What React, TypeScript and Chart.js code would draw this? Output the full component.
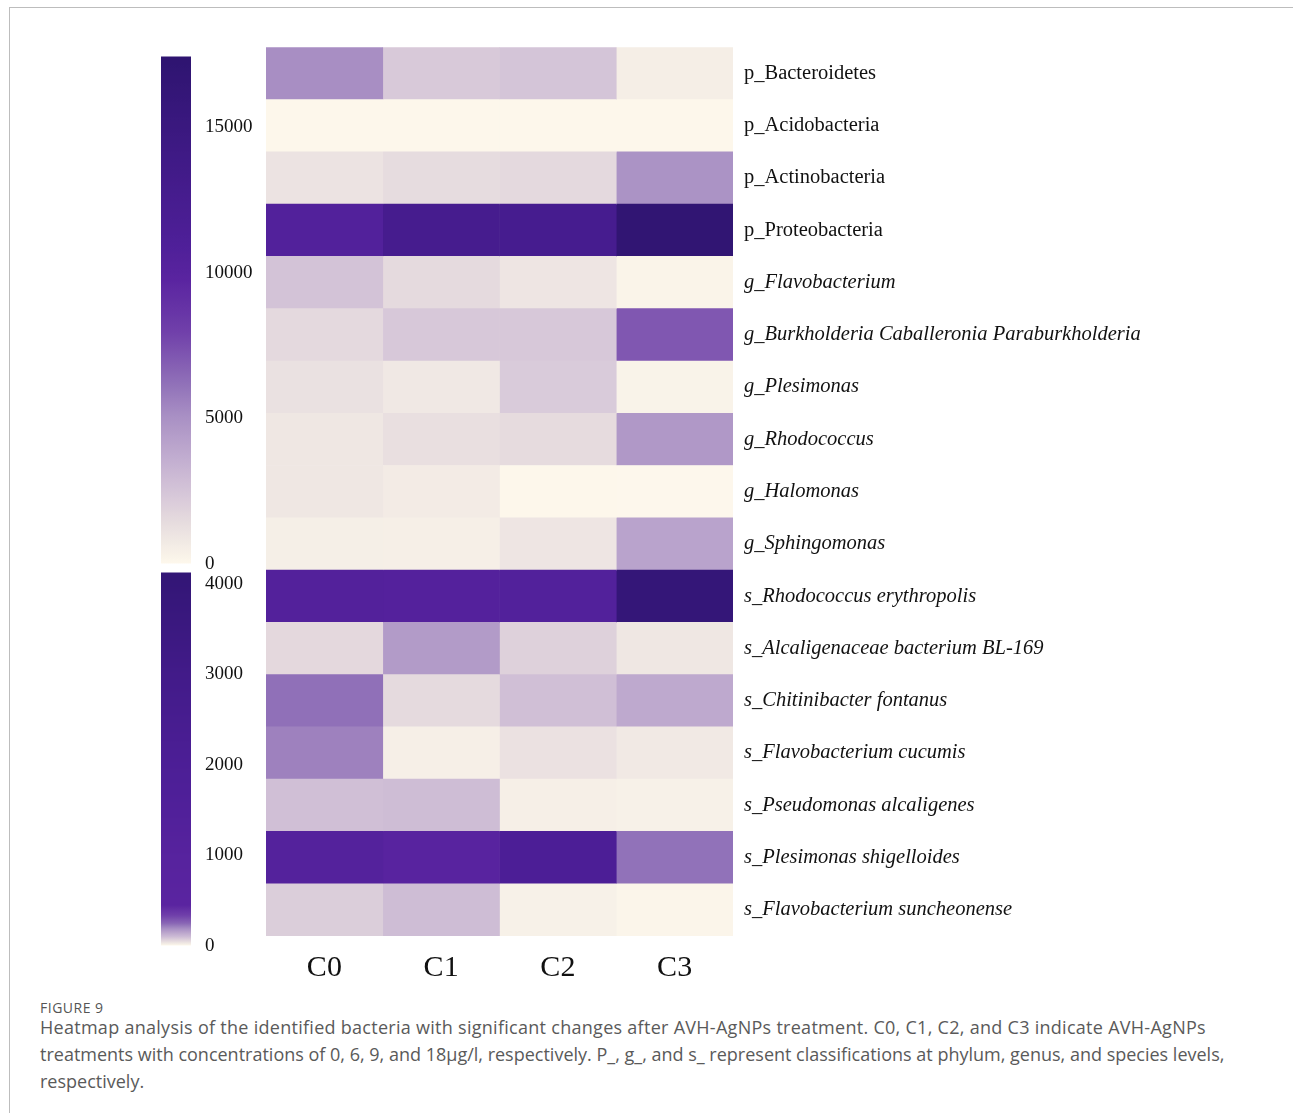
import React, { useEffect, useRef } from 'react';
import { Chart, registerables } from 'chart.js';

Chart.register(...registerables);

// ---------- data ----------
const columns = ['C0', 'C1', 'C2', 'C3'];

const upperRows = [
  'p_Bacteroidetes',
  'p_Acidobacteria',
  'p_Actinobacteria',
  'p_Proteobacteria',
  'g_Flavobacterium',
  'g_Burkholderia Caballeronia Paraburkholderia',
  'g_Plesimonas',
  'g_Rhodococcus',
  'g_Halomonas',
  'g_Sphingomonas',
];

const lowerRows = [
  's_Rhodococcus erythropolis',
  's_Alcaligenaceae bacterium BL-169',
  's_Chitinibacter fontanus',
  's_Flavobacterium cucumis',
  's_Pseudomonas alcaligenes',
  's_Plesimonas shigelloides',
  's_Flavobacterium suncheonense',
];

const upperC0 = [5100, 50, 1050, 10600, 2600, 1550, 1150, 870, 870, 480];
const upperC1 = [2300, 60, 1400, 12600, 1500, 2350, 800, 1250, 650, 450];
const upperC2 = [2500, 50, 1550, 12500, 950, 2350, 2200, 1450, 50, 950];
const upperC3 = [500, 40, 4900, 16900, 200, 7100, 260, 4650, 30, 4100];

const lowerC0 = [1300, 53, 233, 207, 94, 1200, 70];
const lowerC1 = [1250, 164, 50, 15, 97, 700, 97];
const lowerC2 = [1350, 65, 94, 38, 15, 2000, 12];
const lowerC3 = [4000, 29, 136, 26, 12, 230, 6];

const upperTicks = [0, 5000, 10000, 15000];
const lowerTicks = [0, 1000, 2000, 3000, 4000];
const upperMax = 17440;
const lowerMax = 4130;

const captionLines = [
  'Heatmap analysis of the identified bacteria with significant changes after AVH-AgNPs treatment. C0, C1, C2, and C3 indicate AVH-AgNPs',
  'treatments with concentrations of 0, 6, 9, and 18μg/l, respectively. P_, g_, and s_ represent classifications at phylum, genus, and species levels,',
  'respectively.',
];

// ---------- colour scale ----------
const colorStops: [number, string][] = [
  [0, '#fef8ec'],
  [0.018, '#f8f2e8'],
  [0.085, '#e5dade'],
  [0.186, '#c8b5d3'],
  [0.289, '#a990c4'],
  [0.356, '#9070b8'],
  [0.456, '#7040aa'],
  [0.56, '#5a24a0'],
  [0.63, '#4e1f98'],
  [1, '#2e1470'],
];
// value -> position on colour scale for the species colour bar
const lowerAnchors: [number, number][] = [
  [0, 0],
  [100, 0.17],
  [250, 0.38],
  [450, 0.56],
  [1000, 0.58],
  [2000, 0.65],
  [3000, 0.77],
  [4130, 0.95],
];

function hexToRgb(h: string) {
  const n = parseInt(h.slice(1), 16);
  return [(n >> 16) & 255, (n >> 8) & 255, n & 255];
}
function cmap(t: number) {
  t = Math.max(0, Math.min(1, t));
  for (let i = 1; i < colorStops.length; i++) {
    const [t1, c1] = colorStops[i];
    const [t0, c0] = colorStops[i - 1];
    if (t <= t1) {
      const f = (t - t0) / (t1 - t0);
      const a = hexToRgb(c0);
      const b = hexToRgb(c1);
      const r = a.map((x, k) => Math.round(x + (b[k] - x) * f));
      return `rgb(${r[0]},${r[1]},${r[2]})`;
    }
  }
  return colorStops[colorStops.length - 1][1];
}
function upperColor(v: number) {
  return cmap(v / upperMax);
}
function lowerColor(v: number) {
  for (let i = 1; i < lowerAnchors.length; i++) {
    const [v1, t1] = lowerAnchors[i];
    const [v0, t0] = lowerAnchors[i - 1];
    if (v <= v1) return cmap(t0 + ((v - v0) / (v1 - v0)) * (t1 - t0));
  }
  return cmap(lowerAnchors[lowerAnchors.length - 1][1]);
}

const SERIF = "'Liberation Serif', 'Times New Roman', serif";

function colorBarConfig(max: number, ticks: number[], colorFn: (v: number) => string, steps: number): any {
  return {
    type: 'bar',
    data: {
      labels: [''],
      datasets: [
        {
          data: [max],
          borderWidth: 0,
          barPercentage: 1,
          categoryPercentage: 1,
          backgroundColor: (ctx: any) => {
            const chart = ctx.chart;
            const ys = chart.scales && chart.scales.y;
            if (!chart.chartArea || !ys) return 'rgba(0,0,0,0)';
            const y0 = ys.getPixelForValue(0);
            const y1 = ys.getPixelForValue(max);
            const g = chart.ctx.createLinearGradient(0, y0, 0, y1);
            for (let k = 0; k <= steps; k++) {
              g.addColorStop(k / steps, colorFn((max * k) / steps));
            }
            return g;
          },
        },
      ],
    },
    options: {
      animation: false,
      responsive: false,
      devicePixelRatio: 1,
      layout: { padding: { left: 11, top: 0, bottom: 0, right: 0 } },
      plugins: { legend: { display: false }, tooltip: { enabled: false } },
      scales: {
        x: { display: false },
        y: {
          type: 'linear',
          position: 'right',
          min: 0,
          max,
          grid: { display: false, drawTicks: false },
          border: { display: false },
          afterBuildTicks: (s: any) => {
            s.ticks = ticks.map((v) => ({ value: v }));
          },
          afterFit: (s: any) => {
            s.width = 89;
          },
          ticks: {
            padding: 14,
            color: '#111',
            font: { family: SERIF, size: 19 },
            callback: (v: any) => String(v),
          },
        },
      },
    },
  };
}

export default function App() {
  const heatRef = useRef<HTMLCanvasElement>(null);
  const bar1Ref = useRef<HTMLCanvasElement>(null);
  const bar2Ref = useRef<HTMLCanvasElement>(null);

  useEffect(() => {
    const rows = [...upperRows, ...lowerRows];
    const colsUpper = [upperC0, upperC1, upperC2, upperC3];
    const colsLower = [lowerC0, lowerC1, lowerC2, lowerC3];

    const datasets = columns.map((c, j) => ({
      label: c,
      data: rows.map(() => 1),
      backgroundColor: [
        ...colsUpper[j].map((v) => upperColor(v)),
        ...colsLower[j].map((v) => lowerColor(v)),
      ],
      borderWidth: 0,
      barPercentage: 1,
      categoryPercentage: 1,
      stack: 'cells',
    }));

    const heat = new Chart(heatRef.current!, {
      type: 'bar',
      data: { labels: rows, datasets },
      options: {
        indexAxis: 'y',
        animation: false,
        responsive: false,
        devicePixelRatio: 1,
        layout: { padding: { top: 0, left: 0, right: 0, bottom: 0 } },
        plugins: { legend: { display: false }, tooltip: { enabled: false } },
        scales: {
          x: {
            type: 'linear',
            stacked: true,
            min: 0,
            max: columns.length,
            position: 'bottom',
            grid: { display: false, drawTicks: false },
            border: { display: false },
            afterBuildTicks: (s: any) => {
              s.ticks = columns.map((_, j) => ({ value: j + 0.5 }));
            },
            afterFit: (s: any) => {
              s.height = 60;
            },
            ticks: {
              padding: 14,
              color: '#111',
              maxRotation: 0,
              autoSkip: false,
              font: { family: SERIF, size: 30 },
              callback: (_v: any, i: number) => columns[i],
            },
          },
          y: {
            type: 'category',
            stacked: true,
            position: 'right',
            grid: { display: false, drawTicks: false },
            border: { display: false },
            afterFit: (s: any) => {
              s.width = 470;
            },
            ticks: {
              padding: 11,
              color: '#111',
              autoSkip: false,
              font: (ctx: any) => {
                const lab = rows[ctx.index] || '';
                const italic = lab.startsWith('g_') || lab.startsWith('s_');
                return { family: SERIF, size: 20.5, style: italic ? 'italic' : 'normal' };
              },
            },
          },
        },
      },
    } as any);

    const bar1 = new Chart(bar1Ref.current!, colorBarConfig(upperMax, upperTicks, upperColor, 120));
    const bar2 = new Chart(bar2Ref.current!, colorBarConfig(lowerMax, lowerTicks, lowerColor, 400));

    return () => {
      heat.destroy();
      bar1.destroy();
      bar2.destroy();
    };
  }, []);

  const captionFont = "'Open Sans', 'Noto Sans', sans-serif";
  const lineSpacing = [0.28, 0, 0];

  return (
    <div
      style={{
        position: 'absolute',
        left: 0,
        top: 0,
        width: 1293,
        height: 1113,
        overflow: 'hidden',
        background: '#fff',
      }}
    >
      <div
        style={{
          position: 'absolute',
          left: 9,
          top: 7,
          width: 1300,
          height: 1200,
          borderTop: '1px solid #bdbdbd',
          borderLeft: '1px solid #bdbdbd',
        }}
      />
      <canvas
        ref={bar1Ref}
        width={130}
        height={558}
        style={{ position: 'absolute', left: 150, top: 31, width: 130, height: 558 }}
      />
      <canvas
        ref={bar2Ref}
        width={130}
        height={424}
        style={{ position: 'absolute', left: 150, top: 547, width: 130, height: 424 }}
      />
      <canvas
        ref={heatRef}
        width={937}
        height={972}
        style={{ position: 'absolute', left: 266, top: 24, width: 937, height: 972 }}
      />
      <div
        style={{
          position: 'absolute',
          left: 40,
          top: 999,
          fontFamily: captionFont,
          fontSize: 14,
          letterSpacing: 0.5,
          color: '#555',
          lineHeight: '18px',
          whiteSpace: 'nowrap',
        }}
      >
        FIGURE 9
      </div>
      <div
        style={{
          position: 'absolute',
          left: 40,
          top: 1014,
          fontFamily: captionFont,
          fontSize: 18,
          color: '#5a5a5a',
          lineHeight: '27px',
          whiteSpace: 'nowrap',
        }}
      >
        {captionLines.map((line, i) => (
          <div key={i} style={{ letterSpacing: lineSpacing[i] }}>
            {line}
          </div>
        ))}
      </div>
    </div>
  );
}
